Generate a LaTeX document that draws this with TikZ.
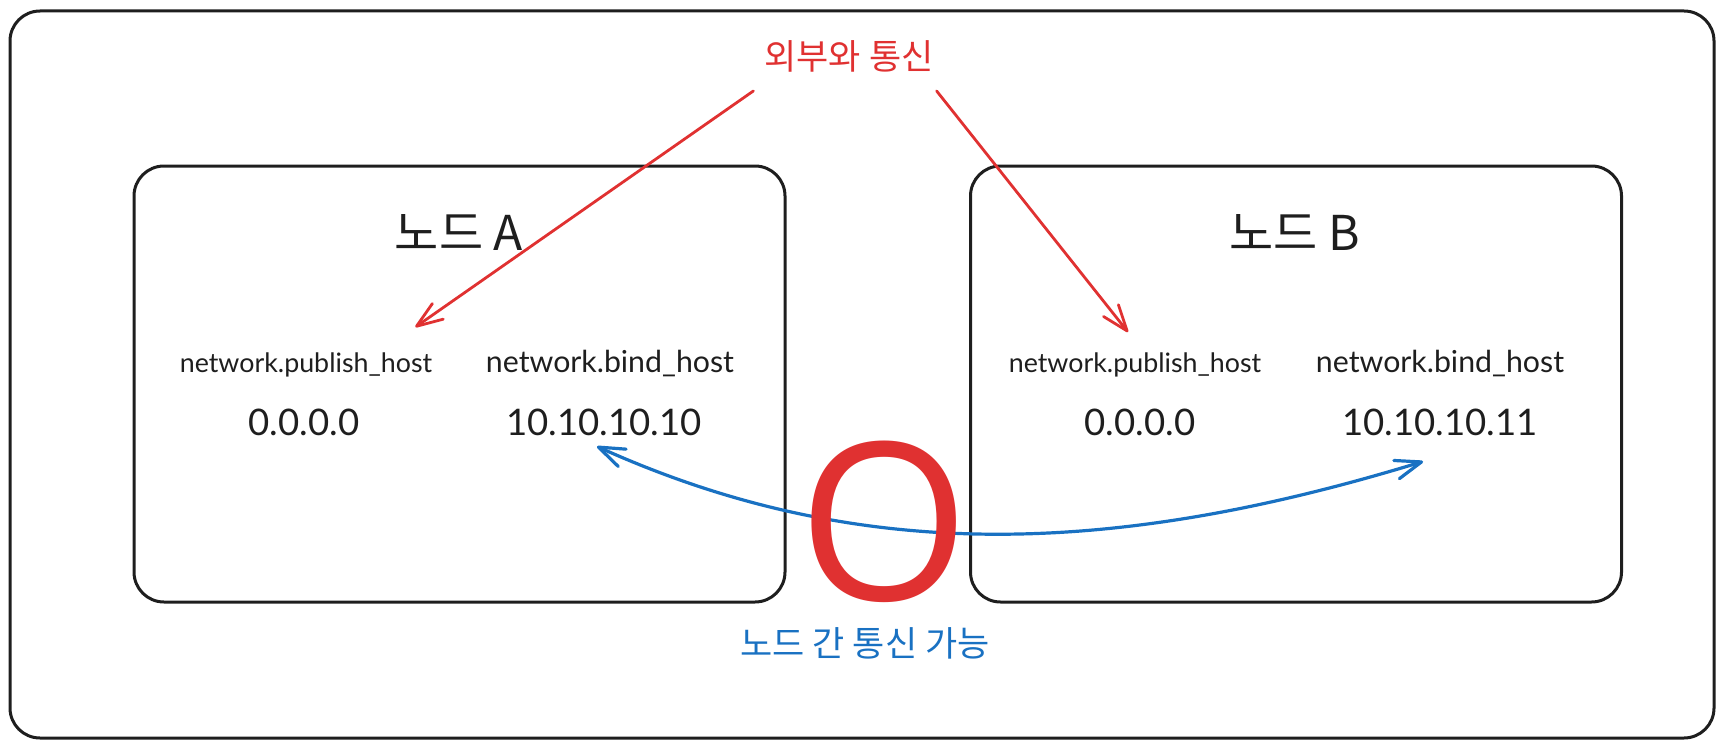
\documentclass[tikz,border=0pt]{standalone}
\usepackage{fontspec}
\setmainfont{Lato}
\newfontfamily\krfont{Noto Sans CJK KR}
\newfontfamily\markfont{Open Sans}
\usetikzlibrary{arrows.meta, positioning}
\definecolor{exred}{RGB}{224,49,49}
\definecolor{exblue}{RGB}{25,113,194}
\definecolor{exblack}{RGB}{30,30,30}

\begin{document}
\begin{tikzpicture}[x=1pt, y=-1pt,
  frame/.style={draw=exblack, line width=3pt, rounded corners=30pt, inner sep=0pt},
  hostbox/.style={frame, minimum width=651pt, minimum height=436pt},
  title/.style={inner sep=0pt, anchor=base, text=exblack, font=\krfont\fontsize{48}{54}\selectfont},
  pubkey/.style={inner sep=0pt, anchor=base, text=exblack, font=\fontsize{26.8}{30}\selectfont},
  bindkey/.style={pubkey, font=\fontsize{30.3}{34}\selectfont},
  addr/.style={pubkey, font=\fontsize{36.6}{40}\selectfont},
  note/.style={inner sep=0pt, anchor=base, font=\krfont\fontsize{35}{40}\selectfont},
  redlink/.style={draw=exred, line width=2.8pt, line cap=round,
    -{Straight Barb[length=26pt, width=19pt, round]}},
  bluelink/.style={draw=exblue, line width=3.2pt, line cap=round,
    {Straight Barb[length=26pt, width=19pt, round]}-{Straight Barb[length=26pt, width=19pt, round]}}]
\useasboundingbox (0,0) rectangle (1723,749);

% outer frame and the two boxes
\node[frame, minimum width=1704pt, minimum height=727pt] (cluster) at (862,374.5) {};
\node[hostbox] (boxA) at (459.5,384) {};
\node[hostbox] (boxB) at (1296,384) {};

% titles
\node[title] (titleA) at (459,250) {노드 A};
\node[title] (titleB) at (1295,250) {노드 B};

% settings of node A
\node[pubkey] (pubA) at (306,372) {network.publish\_host};
\node[bindkey] (bindA) at (610,372) {network.bind\_host};
\node[addr] (pubipA) at (304,435) {0.0.0.0};
\node[addr] (bindipA) at (604,435) {10.10.10.10};

% settings of node B
\node[pubkey] (pubB) at (1135,372) {network.publish\_host};
\node[bindkey] (bindB) at (1440,372) {network.bind\_host};
\node[addr] (pubipB) at (1140,435) {0.0.0.0};
\node[addr] (bindipB) at (1440,435) {10.10.10.11};

% labels
\node[note, text=exred] (outside) at (849,70) {외부와 통신};
\node[note, text=exblue] (between) at (865,656) {노드 간 통신 가능};

% arrows
\draw[redlink] ([xshift=-11pt,yshift=-18pt]outside.south west) -- ([xshift=-17pt,yshift=25pt]pubA.north east);
\draw[redlink] ([xshift=3pt,yshift=-18pt]outside.south east) -- ([xshift=-7pt,yshift=20pt]pubB.north);
\draw[bluelink] ([xshift=-7pt,yshift=-11pt]bindipA.south)
  .. controls +(253,114) and +(-323,99) .. ([xshift=-17pt,yshift=-26pt]bindipB.south);

% big mark, over the blue arrow
\node[inner sep=0pt, anchor=base, text=exred, font=\markfont\fontsize{220}{230}\selectfont] (okmark) at (884,600) {O};
\end{tikzpicture}
\end{document}
